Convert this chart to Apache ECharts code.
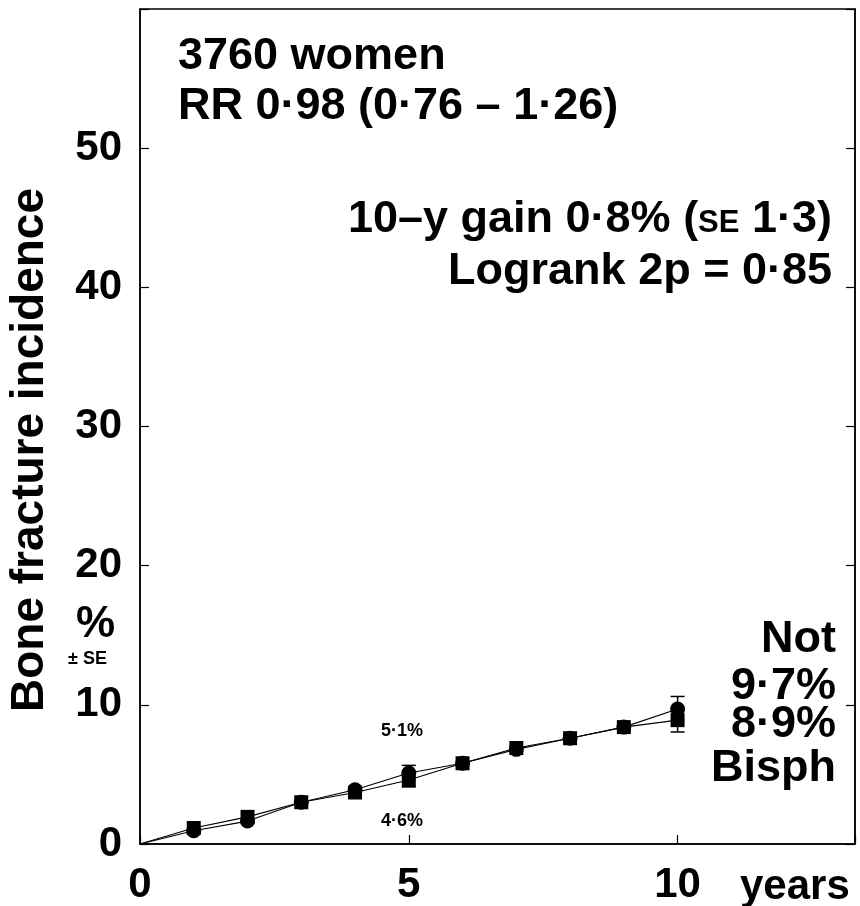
<!DOCTYPE html>
<html><head><meta charset="utf-8">
<script src="https://cdn.jsdelivr.net/npm/echarts@6/dist/echarts.min.js"></script>
<style>html,body{margin:0;padding:0;background:#fff}#c{width:860px;height:906px}</style>
</head><body><div id="c"></div>
<script>
var years = [0, 1, 2, 3, 4, 5, 6, 7, 8, 9, 10];
var notTreated = [0, 0.95, 1.65, 3.0, 3.9, 5.1, 5.8, 6.8, 7.6, 8.4, 9.7];
var bisph = [0, 1.15, 1.95, 3.0, 3.7, 4.6, 5.8, 6.9, 7.6, 8.4, 8.9];
var notSE = [null, null, null, null, null, 0.55, null, null, null, null, 0.9];
var bisphSE = [null, null, null, null, null, 0.5, null, null, null, null, 0.85];
var xTicks = [0, 5, 10];
var yTicks = [0, 10, 20, 30, 40, 50];

var FONT = '"Liberation Sans", Arial, sans-serif';
function pairs(vals){ return years.map(function(y,i){ return [y, vals[i]]; }); }
function errData(vals, se, dir){
  var out = [];
  years.forEach(function(y,i){ if (se[i] != null) out.push([y, vals[i], vals[i] + dir*se[i]]); });
  return out;
}
function errSeries(data){
  return {
    type: 'custom', data: data, z: 3, silent: true,
    renderItem: function(params, api){
      var p0 = api.coord([api.value(0), api.value(1)]);
      var p1 = api.coord([api.value(0), api.value(2)]);
      var w = 7;
      return { type: 'group', children: [
        { type: 'line', shape: {x1:p0[0], y1:p0[1], x2:p1[0], y2:p1[1]}, style: {stroke:'#000', lineWidth:1.5} },
        { type: 'line', shape: {x1:p1[0]-w, y1:p1[1], x2:p1[0]+w, y2:p1[1]}, style: {stroke:'#000', lineWidth:1.5} }
      ]};
    }
  };
}

var chart = echarts.init(document.getElementById('c'));
chart.setOption({
  animation: false,
  grid: { left: 140, right: 5, top: 9, bottom: 62, containLabel: false, outerBoundsMode: 'none',
          show: true, borderColor: '#000', borderWidth: 1.5 },
  xAxis: {
    type: 'value', min: 0, max: 13.3, interval: 5,
    axisLine: { lineStyle: { color: '#000', width: 1.5 } },
    axisTick: { inside: true, length: 9, lineStyle: { color: '#000', width: 1.2 } },
    splitLine: { show: false },
    axisLabel: { color: '#000', fontFamily: FONT, fontWeight: 'bold', fontSize: 42, margin: 20,
      formatter: function(v){ return xTicks.indexOf(v) >= 0 ? String(v) : ''; } }
  },
  yAxis: [{
    type: 'value', min: 0, max: 60, interval: 10,
    axisLine: { show: true, lineStyle: { color: '#000', width: 1.5 } },
    axisTick: { show: true, inside: true, length: 9, lineStyle: { color: '#000', width: 1.2 } },
    splitLine: { show: false },
    axisLabel: { color: '#000', fontFamily: FONT, fontWeight: 'bold', fontSize: 42, margin: 18,
      formatter: function(v){ return yTicks.indexOf(v) >= 0 ? String(v) : ''; } }
  }, {
    type: 'value', min: 0, max: 60, interval: 10, position: 'right',
    axisLine: { show: true, lineStyle: { color: '#000', width: 1.5 } },
    axisTick: { show: true, inside: true, length: 9, lineStyle: { color: '#000', width: 1.2 } },
    splitLine: { show: false }, axisLabel: { show: false }
  }],
  series: [
    { name: 'Not', type: 'line', data: pairs(notTreated), symbol: 'circle',
      symbolSize: function(v){ return v[0] === 0 ? 0 : 15; },
      lineStyle: { color: '#000', width: 1.2 }, itemStyle: { color: '#000' }, z: 4 },
    { name: 'Bisph', type: 'line', data: pairs(bisph), symbol: 'rect',
      symbolSize: function(v){ return v[0] === 0 ? 0 : 14; },
      lineStyle: { color: '#000', width: 1.2 }, itemStyle: { color: '#000' }, z: 4 },
    errSeries(errData(notTreated, notSE, 1)),
    errSeries(errData(bisph, bisphSE, -1))
  ],
  graphic: [
    { type: 'text', x: 30, y: 450, rotation: Math.PI / 2,
      style: { text: 'Bone fracture incidence', font: 'bold 46px ' + FONT, fill: '#000', align: 'center', verticalAlign: 'middle' } },
    { type: 'text', left: 178, top: 34, style: { text: '3760 women', font: 'bold 45px ' + FONT, fill: '#000' } },
    { type: 'text', left: 178, top: 84, style: { text: 'RR 0·98 (0·76 – 1·26)', font: 'bold 45px ' + FONT, fill: '#000' } },
    { type: 'text', right: 28, top: 197, style: {
        text: '{a|10–y gain 0·8% (}{s|SE}{a| 1·3)}',
        rich: { a: { font: 'bold 45px ' + FONT, fill: '#000', lineHeight: 45 },
                s: { font: 'bold 31px ' + FONT, fill: '#000', lineHeight: 31, verticalAlign: 'bottom', padding: [0, 0, 3, 0] } } } },
    { type: 'text', right: 28, top: 249, style: { text: 'Logrank 2p = 0·85', font: 'bold 45px ' + FONT, fill: '#000' } },
    { type: 'text', right: 24, top: 617, style: { text: 'Not', font: 'bold 45px ' + FONT, fill: '#000' } },
    { type: 'text', right: 24, top: 664, style: { text: '9·7%', font: 'bold 45px ' + FONT, fill: '#000' } },
    { type: 'text', right: 24, top: 702, style: { text: '8·9%', font: 'bold 45px ' + FONT, fill: '#000' } },
    { type: 'text', right: 24, top: 746, style: { text: 'Bisph', font: 'bold 45px ' + FONT, fill: '#000' } },
    { type: 'text', left: 76, top: 603, style: { text: '%', font: 'bold 44px ' + FONT, fill: '#000' } },
    { type: 'text', left: 68, top: 650, style: { text: '± SE', font: 'bold 18px ' + FONT, fill: '#000' } },
    { type: 'text', left: 381, top: 722, style: { text: '5·1%', font: 'bold 18px ' + FONT, fill: '#000' } },
    { type: 'text', left: 381, top: 812, style: { text: '4·6%', font: 'bold 18px ' + FONT, fill: '#000' } },
    { type: 'text', left: 740, top: 866, style: { text: 'years', font: 'bold 42px ' + FONT, fill: '#000' } }
  ]
});
</script></body></html>
